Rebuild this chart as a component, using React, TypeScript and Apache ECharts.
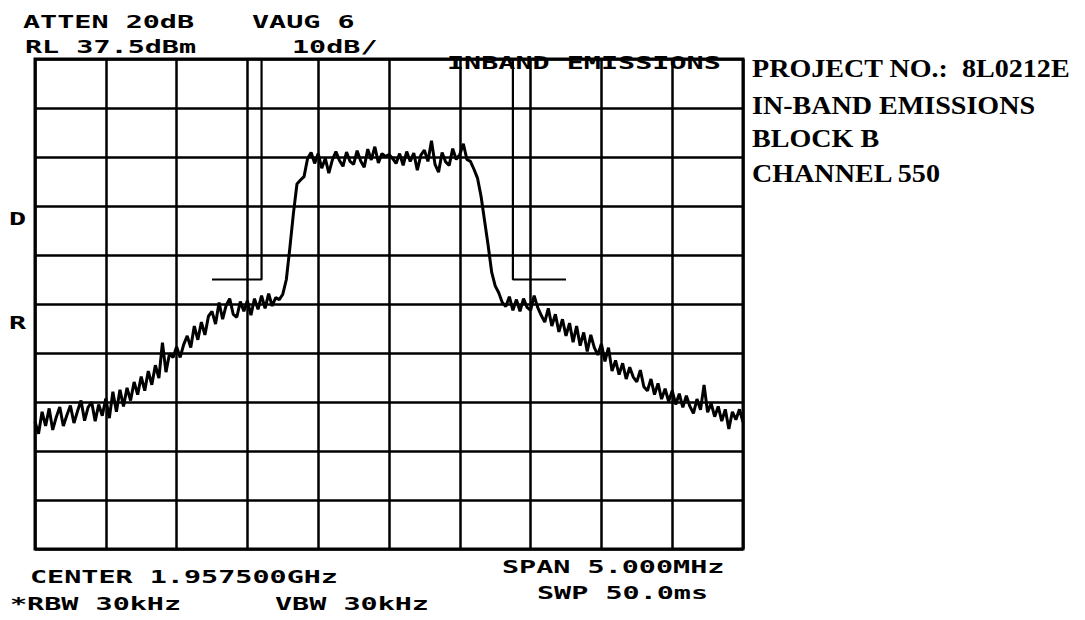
import React, { useEffect, useRef } from "react";
import * as echarts from "echarts";

// Sweep settings (from the analyser annotation)
const START_MHZ = 1955.0; // CENTER 1957.5 MHz, SPAN 5 MHz
const STOP_MHZ = 1960.0;
const STEP_MHZ = 0.025; // 201 sweep points
const REF_LEVEL_DBM = 37.5;
const BOTTOM_DBM = -62.5;
const FREQ_DIV_MHZ = 0.5;

// Trace values (dBm)
const traceDbm = [
  -36.5, -39.0, -34.5, -37.4, -33.8, -38.2, -35.6, -33.5, -37.4, -35.2,
  -33.2, -36.8, -34.4, -32.2, -36.3, -33.6, -32.5, -36.4, -33.0, -35.3,
  -31.8, -35.8, -30.4, -34.5, -30.0, -33.4, -29.6, -32.2, -28.4, -31.0,
  -27.3, -30.2, -26.2, -29.0, -25.0, -27.6, -20.4, -26.4, -22.6, -23.4,
  -21.2, -23.4, -20.8, -19.0, -21.4, -17.0, -19.8, -16.2, -18.8, -15.0,
  -14.0, -16.6, -12.2, -15.6, -12.8, -11.4, -14.6, -15.2, -12.0, -14.0,
  -11.8, -14.8, -11.4, -13.6, -10.8, -13.4, -10.4, -12.9, -11.2, -11.6,
  -10.5, -7.5, -1.0, 6.0, 12.0, 12.8, 13.5, 17.2, 18.4, 16.2,
  18.2, 15.2, 17.2, 14.2, 16.9, 18.6, 16.8, 15.6, 18.5, 16.6,
  16.0, 18.8, 16.7, 15.4, 19.1, 16.9, 19.6, 16.3, 18.2, 17.6,
  18.0, 17.2, 16.2, 18.2, 15.8, 18.6, 16.6, 18.3, 14.8, 17.9,
  18.9, 16.6, 20.8, 16.0, 14.4, 18.4, 16.5, 15.8, 19.2, 17.0,
  18.0, 20.2, 17.0, 16.6, 15.0, 13.2, 9.5, 4.5, -0.5, -6.0,
  -8.8, -10.2, -12.2, -13.0, -11.0, -13.8, -11.6, -14.0, -11.4, -13.2,
  -13.8, -10.8, -13.2, -14.8, -16.2, -13.4, -17.0, -14.6, -18.2, -15.6,
  -19.0, -16.4, -20.3, -17.0, -21.0, -18.3, -22.2, -18.8, -21.4, -22.9,
  -20.6, -24.2, -21.4, -26.2, -24.0, -26.9, -24.6, -27.8, -25.4, -27.4,
  -28.4, -26.0, -29.4, -30.2, -27.8, -31.0, -28.7, -31.9, -29.8, -32.4,
  -30.2, -33.0, -30.8, -33.6, -31.2, -33.4, -34.8, -31.9, -34.1, -29.0,
  -34.6, -32.8, -35.5, -33.4, -36.4, -34.0, -38.0, -34.5, -36.1, -34.0, -36.6,
];

// Display-line markers [MHz, dBm]
const leftMarker = [
  [1956.25, -7.5],
  [1956.6, -7.5],
  [1956.6, 37.5],
];
const rightMarker = [
  [1958.75, -7.5],
  [1958.375, -7.5],
  [1958.375, 37.5],
];

// Annotation texts
const txtAtten = "ATTEN 20dB";
const txtVavg = "VAUG 6";
const txtRl = "RL 37.5dBm";
const txtScale = "10dB/";
const txtInband = "INBAND EMISSIONS";
const txtD = "D";
const txtR = "R";
const txtCenter = "CENTER 1.957500GHz";
const txtRbw = "*RBW 30kHz";
const txtVbw = "VBW 30kHz";
const txtSpan = "SPAN 5.000MHz";
const txtSwp = "SWP 50.0ms";
const projectLines = [
  "PROJECT NO.:  8L0212E",
  "IN-BAND EMISSIONS",
  "BLOCK B",
  "CHANNEL 550",
];

const MONO = 'bold 18px "DejaVu Sans Mono", "Liberation Mono", monospace';
const SERIF = 'bold 26px "Liberation Serif", "DejaVu Serif", serif';

function mono(text: string, x: number, capTop: number) {
  return {
    type: "text",
    x,
    y: capTop - 2,
    scaleX: 1.58,
    style: { text, font: MONO, fill: "#000", verticalAlign: "top", align: "left" },
    z: 100,
  };
}

function serif(text: string, x: number, capTop: number) {
  return {
    type: "text",
    x,
    y: capTop - 5,
    scaleX: 1.08,
    style: { text, font: SERIF, fill: "#000", verticalAlign: "top", align: "left" },
    z: 100,
  };
}

export default function App() {
  const ref = useRef<HTMLDivElement>(null);

  useEffect(() => {
    if (!ref.current) return;
    const chart = echarts.init(ref.current, undefined, { renderer: "svg" });
    const gridLine = { color: "#000", width: 2.5 };
    const option = {
      animation: false,
      backgroundColor: "#fff",
      grid: {
        left: 35,
        top: 59,
        width: 708,
        height: 490,
        show: true,
        borderColor: "#000",
        borderWidth: 3,
        backgroundColor: "transparent",
      },
      xAxis: {
        type: "value",
        min: START_MHZ,
        max: STOP_MHZ,
        interval: FREQ_DIV_MHZ,
        axisLine: { show: false },
        axisTick: { show: false },
        axisLabel: { show: false },
        splitLine: { show: true, lineStyle: gridLine },
      },
      yAxis: [
        {
          type: "value",
          min: BOTTOM_DBM,
          max: REF_LEVEL_DBM,
          axisLine: { show: false },
          axisTick: { show: false },
          axisLabel: { show: false },
          splitLine: { show: false },
        },
        {
          type: "value",
          min: 0,
          max: 100,
          interval: 10,
          axisLine: { show: false },
          axisTick: { show: false },
          axisLabel: { show: false },
          splitLine: { show: true, lineStyle: gridLine },
        },
      ],
      series: [
        {
          type: "line",
          yAxisIndex: 0,
          symbol: "none",
          lineStyle: { color: "#000", width: 3 },
          data: traceDbm.map((v, i) => [START_MHZ + i * STEP_MHZ, v]),
          z: 5,
        },
        {
          type: "line",
          yAxisIndex: 0,
          symbol: "none",
          lineStyle: { color: "#000", width: 2.2 },
          data: leftMarker,
          z: 4,
        },
        {
          type: "line",
          yAxisIndex: 0,
          symbol: "none",
          lineStyle: { color: "#000", width: 2.2 },
          data: rightMarker,
          z: 4,
        },
      ],
      graphic: [
        mono(txtAtten, 23, 15),
        mono(txtVavg, 252, 15),
        mono(txtRl, 25, 40),
        mono(txtScale, 292, 40),
        mono(txtInband, 447, 56),
        mono(txtD, 9, 212),
        mono(txtR, 9, 316),
        mono(txtCenter, 30, 570),
        mono(txtRbw, 10, 597),
        mono(txtVbw, 275, 597),
        mono(txtSpan, 502, 560),
        mono(txtSwp, 537, 586),
        serif(projectLines[0], 752, 60),
        serif(projectLines[1], 752, 97),
        serif(projectLines[2], 752, 130),
        serif(projectLines[3], 752, 165),
      ],
    };
    chart.setOption(option as any);
    return () => chart.dispose();
  }, []);

  return (
    <div
      ref={ref}
      style={{ position: "absolute", left: 0, top: 0, width: 1085, height: 620, background: "#fff" }}
    />
  );
}
